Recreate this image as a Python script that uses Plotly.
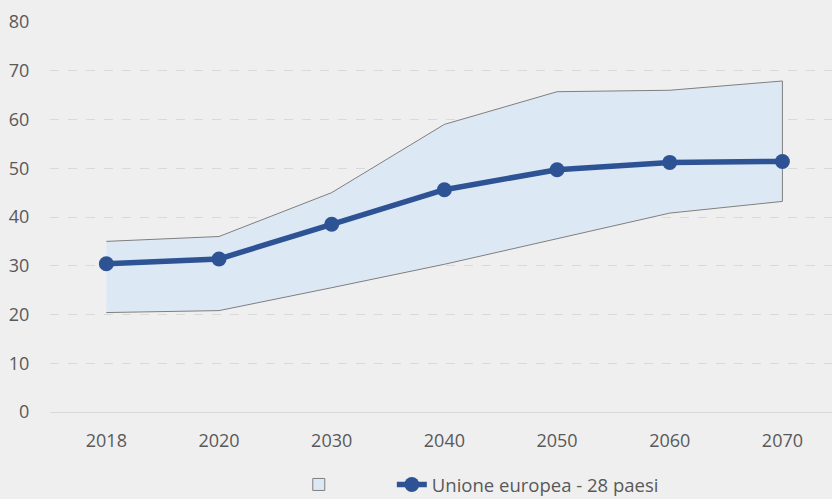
import plotly.graph_objects as go

years = ["2018", "2020", "2030", "2040", "2050", "2060", "2070"]
eu28 = [30.4, 31.4, 38.5, 45.6, 49.7, 51.2, 51.4]
upper = [35.0, 36.0, 45.0, 59.0, 65.7, 66.0, 67.9]
lower = [20.4, 20.8, 25.5, 30.3, 35.6, 40.8, 43.2]
y_ticks = [0, 10, 20, 30, 40, 50, 60, 70, 80]

BG = "#efefef"
TXT = "#595959"
FONT = "Open Sans"
BAND = "#dde8f5"
LINE = "#2e5395"

fig = go.Figure()

fig.add_trace(go.Scatter(
    x=years + years[::-1],
    y=upper + lower[::-1],
    fill="toself",
    fillcolor=BAND,
    line=dict(color="#7f7f7f", width=1),
    mode="lines",
    name="",
    showlegend=False,
    hoverinfo="skip",
))

# legend-only entry for the band (rectangle symbol)
fig.add_trace(go.Bar(
    x=[None], y=[None],
    marker=dict(color=BAND, line=dict(color="#7f7f7f", width=1)),
    name="\u00a0" * 10,
    showlegend=True,
))

fig.add_trace(go.Scatter(
    x=years,
    y=eu28,
    mode="lines+markers",
    line=dict(color=LINE, width=5.5),
    marker=dict(size=15, color=LINE),
    name="Unione europea - 28 paesi",
))

fig.update_layout(
    width=832,
    height=499,
    paper_bgcolor=BG,
    plot_bgcolor=BG,
    margin=dict(l=50, r=0, t=22, b=87, autoexpand=False),
    font=dict(family=FONT, size=18, color=TXT),
    showlegend=True,
    legend=dict(
        orientation="h",
        x=0.5515,
        xanchor="center",
        y=-0.187,
        yanchor="middle",
        font=dict(family=FONT, size=18.5, color=TXT),
        bgcolor="rgba(0,0,0,0)",
    ),
)

fig.update_xaxes(
    type="category",
    range=[-0.5, 6.44],
    automargin=False,
    showgrid=False,
    zeroline=False,
    showline=False,
    ticks="outside",
    ticklen=12,
    tickcolor="rgba(0,0,0,0)",
    tickfont=dict(family=FONT, size=18, color=TXT),
)

fig.update_yaxes(
    range=[0, 80],
    tickvals=y_ticks,
    automargin=False,
    showgrid=True,
    gridcolor="#d9d9d9",
    griddash="dash",
    gridwidth=1,
    zeroline=True,
    zerolinecolor="#d9d9d9",
    zerolinewidth=1,
    showline=False,
    ticks="outside",
    ticklen=16,
    tickcolor="rgba(0,0,0,0)",
    tickfont=dict(family=FONT, size=18, color=TXT),
)

fig.write_html(
    "out.html",
    config={"displayModeBar": False},
    post_script="document.body.style.margin='0px';",
)
